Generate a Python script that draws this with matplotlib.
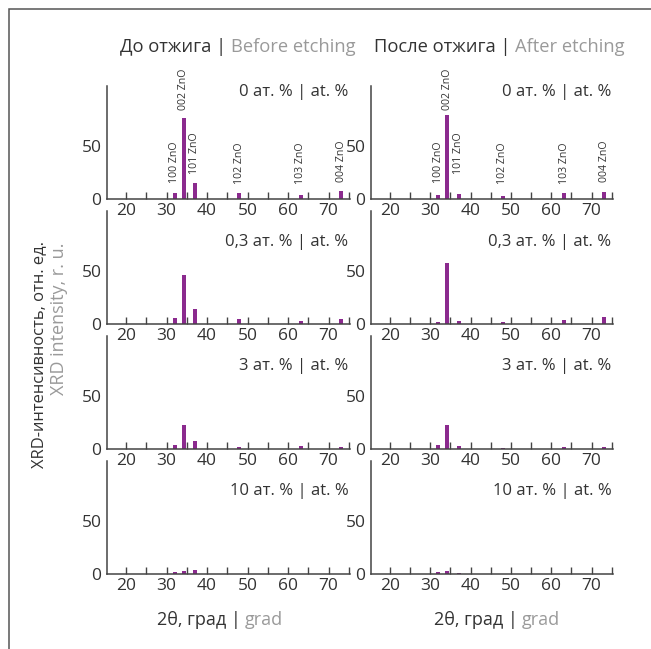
import matplotlib
matplotlib.use("Agg")
import matplotlib.pyplot as plt
from matplotlib.ticker import MultipleLocator, FixedLocator

plt.rcParams['font.family'] = ['Open Sans', 'DejaVu Sans']

# ---------------- data ----------------
peak_pos = [32.0, 34.2, 37.0, 48.0, 63.2, 73.1]
peak_names = ["100 ZnO", "002 ZnO", "101 ZnO", "102 ZnO", "103 ZnO", "004 ZnO"]
doping = ["0", "0,3", "3", "10"]

before_0 = [6.2, 76.4, 15.1, 5.7, 4.0, 7.5]
before_03 = [5.4, 46.0, 13.9, 4.7, 2.8, 4.7]
before_3 = [3.5, 22.4, 7.3, 2.2, 2.5, 1.6]
before_10 = [2.2, 2.5, 3.4, 0.0, 0.0, 0.0]

after_0 = [4.0, 79.5, 4.7, 3.1, 5.7, 7.2]
after_03 = [2.2, 57.8, 3.1, 1.9, 3.5, 6.3]
after_3 = [3.5, 22.6, 2.8, 1.2, 1.9, 1.9]
after_10 = [2.2, 2.5, 1.0, 0.0, 0.0, 0.0]

before = [before_0, before_03, before_3, before_10]
after = [after_0, after_03, after_3, after_10]

col_titles = [("До отжига |", "Before etching"), ("После отжига |", "After etching")]
xlabel_parts = ("2θ, град |", "grad")
ylabel_ru = "XRD-интенсивность, отн. ед."
ylabel_en = "XRD intensity, r. u."
x_ticks = [20, 30, 40, 50, 60, 70]
y_ticks = [0, 50]

# ---------------- style ----------------
W, H = 651, 649
DARK = "#333333"
GRAY = "#9a9a9a"
SPINE = "#444444"
BAR = "#8b2a8e"

fig = plt.figure(figsize=(W / 100, H / 100), dpi=100)

col_x = [107, 371]
col_w = [243, 242]
row_zero = [199.3, 324.2, 449.1, 574.0]
ax_h = 113


def px_axes(x0, y_bottom, w, h):
    return fig.add_axes([x0 / W, 1 - y_bottom / H, w / W, h / H])


axes = []
for c in range(2):
    data_col = before if c == 0 else after
    for r in range(4):
        ax = px_axes(col_x[c], row_zero[r], col_w[c], ax_h)
        ax.patch.set_alpha(0)
        ax.bar(peak_pos, data_col[r], width=1.0, color=BAR, linewidth=0)
        ax.set_xlim(15.3, 75.3)
        ax.set_ylim(0, 106)
        for s in ["top", "right"]:
            ax.spines[s].set_visible(False)
        for s in ["left", "bottom"]:
            ax.spines[s].set_color(SPINE)
            ax.spines[s].set_linewidth(1.1)
        ax.xaxis.set_major_locator(FixedLocator(x_ticks))
        ax.xaxis.set_minor_locator(MultipleLocator(5))
        ax.yaxis.set_major_locator(FixedLocator(y_ticks))
        ax.tick_params(axis="x", which="both", direction="in", length=5,
                       width=1.0, color=SPINE, labelsize=12.5, labelcolor=DARK, pad=3)
        ax.tick_params(axis="y", which="both", length=0, labelsize=12.5,
                       labelcolor=DARK, pad=4)
        ylab = 101 if r == 0 else 77.5
        ax.text(0.993, ylab / 106, f"{doping[r]} ат. % | at. %", transform=ax.transAxes,
                ha="right", va="center", fontsize=12, color=DARK)
        if r == 0:
            for i, name in enumerate(peak_names):
                top = max(before_0[i], after_0[i])
                off = 4 if top > 50 else 9
                ax.text(peak_pos[i], top + off, name, rotation=90, ha="center",
                        va="bottom", fontsize=7.6, color=DARK)
        axes.append(ax)

renderer = fig.canvas.get_renderer()


def mixed(xc, y, parts, size, gap=4.5):
    """Two-coloured text centred at pixel xc, y (from top)."""
    texts = []
    for s, col in parts:
        texts.append(fig.text(0, 0, s, color=col, fontsize=size, ha="left", va="center"))
    widths = [t.get_window_extent(renderer).width for t in texts]
    total = sum(widths) + gap * (len(texts) - 1)
    start = xc - total / 2
    for t, w in zip(texts, widths):
        t.set_position((start / W, 1 - y / H))
        start += w + gap


mixed(238, 46.5, [(col_titles[0][0], DARK), (col_titles[0][1], GRAY)], 13.2)
mixed(499, 46.5, [(col_titles[1][0], DARK), (col_titles[1][1], GRAY)], 13.2)
mixed(220, 620, [(xlabel_parts[0], DARK), (xlabel_parts[1], GRAY)], 13)
mixed(497, 620, [(xlabel_parts[0], DARK), (xlabel_parts[1], GRAY)], 13)

fig.text(39 / W, 1 - 241 / H, ylabel_ru, rotation=90, ha="center", va="top",
         fontsize=11.9, color=DARK)
fig.text(59 / W, 1 - 243 / H, ylabel_en, rotation=90, ha="center", va="top",
         fontsize=13, color=GRAY)

# outer frame
frame = plt.Rectangle((9 / W, -0.1), 1.2, 1 - 9 / H + 0.1, transform=fig.transFigure,
                      fill=False, edgecolor="#555555", linewidth=1.1)
fig.add_artist(frame)

fig.savefig("out.png", dpi=100)
